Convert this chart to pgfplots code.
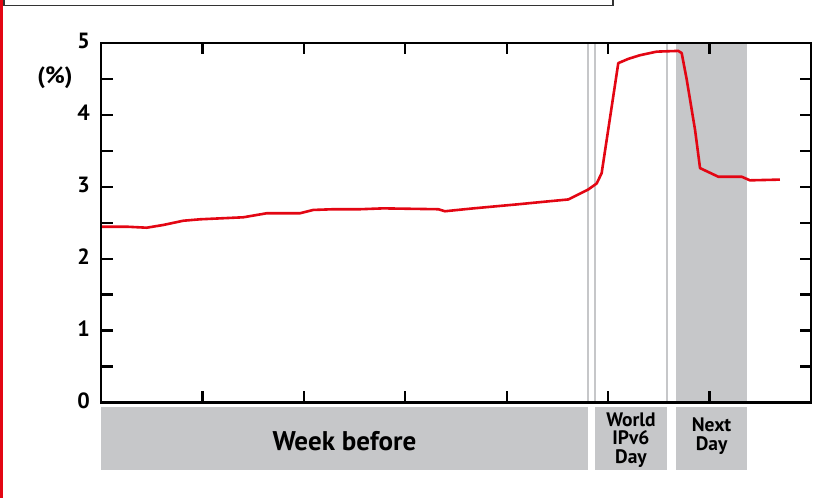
\documentclass[border=0pt]{standalone}
\usepackage{pgfplots}
\pgfplotsset{compat=1.18}
\usepackage{fontspec}
\setmainfont{PT Sans}
\definecolor{ired}{RGB}{227,6,19}
\definecolor{igray}{RGB}{198,199,201}
\begin{document}
\begin{tikzpicture}[x=1pt,y=1pt]
\useasboundingbox (0,0) rectangle (838,498);
\fill[ired] (0,0) rectangle (3.2,498);
\draw[line width=1.3pt, black!80] (4,492.5) rectangle (613,512);
\node[font=\fontsize{23.5}{23.5}\selectfont\bfseries] at (55,420.5) {(\%)};
\begin{axis}[
  at={(101pt,95.5pt)}, anchor=south west,
  scale only axis, width=710pt, height=359.5pt,
  xmin=0, xmax=7, ymin=0, ymax=5,
  axis on top, clip=false,
  axis line style={line width=2.6pt, black},
  xtick={1,2,3,4,5,6}, xticklabels={},
  ytick={0,1,2,3,4,5},
  minor ytick={0.5,1.5,2.5,3.5,4.5},
  tick align=inside,
  major tick length=11.5pt, minor tick length=11.5pt,
  every tick/.style={line width=2.3pt, black},
  /pgf/number format/assume math mode=true,
  yticklabel style={font=\fontsize{22}{22}\selectfont\bfseries, inner sep=3pt, xshift=-8pt, yshift=2pt},
  yticklabel={\pgfmathprintnumber{\tick}},
]
\fill[igray] (axis cs:5.67,0) rectangle (axis cs:6.37,5);
\draw[igray, line width=2pt] (axis cs:4.80,0) -- (axis cs:4.80,5);
\draw[igray, line width=2pt] (axis cs:4.875,0) -- (axis cs:4.875,5);
\draw[igray, line width=2pt] (axis cs:5.58,0) -- (axis cs:5.58,5);
% label boxes
\fill[igray] (axis cs:0,-0.063) rectangle (axis cs:4.80,-0.939);
\fill[igray] (axis cs:4.875,-0.063) rectangle (axis cs:5.58,-0.939);
\fill[igray] (axis cs:5.67,-0.063) rectangle (axis cs:6.37,-0.939);
\node[font=\fontsize{27}{27}\selectfont\bfseries] at (axis cs:2.40,-0.535) {Week before};
\node[font=\fontsize{19.5}{18.5}\selectfont\bfseries, align=center, inner sep=0pt] at (axis cs:5.225,-0.52) {World\\IPv6\\Day};
\node[font=\fontsize{19.5}{18.5}\selectfont\bfseries, align=center, inner sep=0pt] at (axis cs:6.02,-0.47) {Next\\Day};
\addplot[ired, line width=2.6pt, line join=round] coordinates {
(0.000,2.445) (0.253,2.445) (0.451,2.431) (0.614,2.469) (0.811,2.528)
(0.976,2.548) (1.403,2.576) (1.634,2.632) (1.962,2.632) (2.093,2.678)
(2.290,2.688) (2.553,2.688) (2.783,2.700) (3.325,2.688) (3.391,2.660)
(3.671,2.700) (4.098,2.755) (4.361,2.791) (4.607,2.824) (4.804,2.963)
(4.887,3.046) (4.936,3.19) (5.100,4.72) (5.200,4.78) (5.314,4.83)
(5.479,4.88) (5.692,4.89) (5.725,4.86) (5.775,4.49) (5.857,3.79)
(5.906,3.26) (6.086,3.14) (6.317,3.14) (6.398,3.09) (6.694,3.10)
};
\end{axis}
\end{tikzpicture}
\end{document}
